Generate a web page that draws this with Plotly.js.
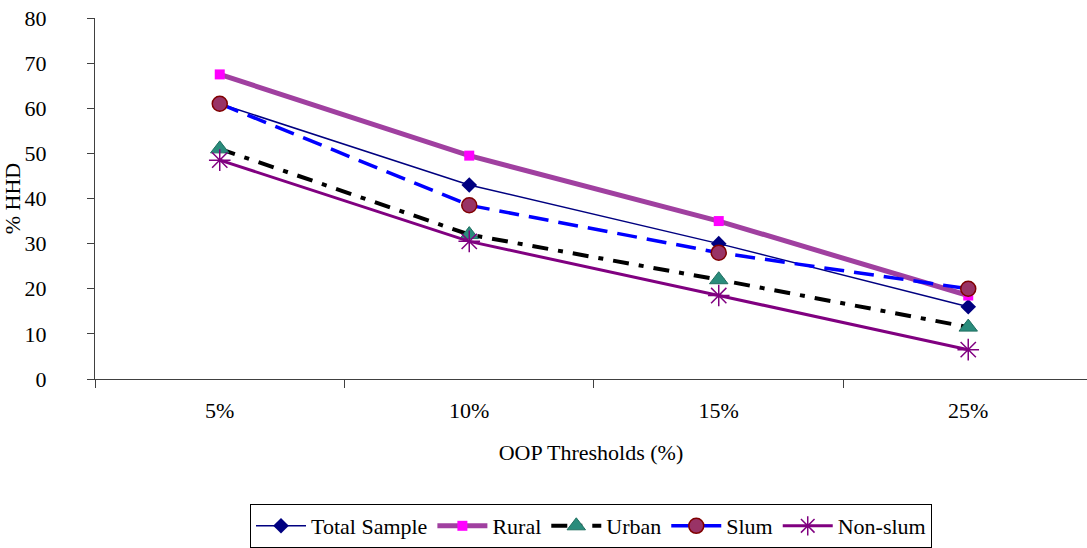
<!DOCTYPE html>
<html>
<head>
<meta charset="utf-8">
<script src="https://cdn.plot.ly/plotly-3.0.1.min.js"></script>
</head>
<body style="margin:0">
<div id="chart"></div>
<script>
const categories = ["5%", "10%", "15%", "25%"];
const totalSample = [61, 43, 30, 16];
const rural = [67.5, 49.5, 35, 18.5];
const urban = [51, 32, 22, 11.5];
const slum = [61, 38.5, 28, 20];
const nonSlum = [48.5, 30.5, 18.5, 6.5];

const serifFam = "Liberation Serif";

const traces = [
  {name: "Total Sample", x: categories, y: totalSample, type: "scatter", mode: "lines+markers",
   line: {color: "#000080", width: 1.5}, marker: {symbol: "diamond", size: 12, color: "#000080"}},
  {name: "Rural", x: categories, y: rural, type: "scatter", mode: "lines+markers",
   line: {color: "#A040A0", width: 5}, marker: {symbol: "square", size: 10, color: "#FF00FF"}},
  {name: "Urban", x: categories, y: urban, type: "scatter", mode: "lines+markers",
   line: {color: "#000000", width: 4, dash: "16px,10px,5px,10px"},
   marker: {symbol: "triangle-up", size: 16, color: "#2A8C7C", line: {color: "#1F6F60", width: 1}}},
  {name: "Slum", x: categories, y: slum, type: "scatter", mode: "lines+markers",
   line: {color: "#0000FF", width: 3.5, dash: "20px,10px"},
   marker: {symbol: "circle", size: 15, color: "#993366", line: {color: "#800000", width: 1.5}}},
  {name: "Non-slum", x: categories, y: nonSlum, type: "scatter", mode: "lines+markers",
   line: {color: "#800080", width: 3}, marker: {symbol: "asterisk-open", size: 18, color: "#800080", line: {color: "#800080", width: 1.5}}}
];

const layout = {
  width: 1087, height: 548,
  margin: {l: 95, r: 0, t: 18, b: 168},
  paper_bgcolor: "#fff", plot_bgcolor: "#fff",
  font: {family: serifFam, size: 22},
  showlegend: true,
  legend: {orientation: "h", x: 0.5, xanchor: "center", y: -0.345, yanchor: "top",
    bordercolor: "#000", borderwidth: 1, bgcolor: "#fff", font: {family: serifFam, size: 22},
    itemwidth: 50},
  xaxis: {type: "category", range: [-0.5, 3.476], showline: true, linecolor: "#404040", linewidth: 1,
    ticks: "outside", ticklen: 8, tickcolor: "#404040", tickson: "boundaries", showgrid: false, zeroline: false,
    tickfont: {family: serifFam, size: 22}, ticklabelstandoff: 12,
    title: {text: "OOP Thresholds (%)", font: {family: serifFam, size: 22}, standoff: 22}},
  yaxis: {range: [0, 80], dtick: 10, showline: true, linecolor: "#404040", linewidth: 1,
    ticks: "outside", ticklen: 7, tickcolor: "#404040", showgrid: false, zeroline: false,
    tickfont: {family: serifFam, size: 22}, ticklabelstandoff: 36,
    title: {text: "% HHD", font: {family: serifFam, size: 22}, standoff: 6}}
};

Plotly.newPlot("chart", traces, layout, {displayModeBar: false}).then(function (gd) {
  gd.querySelectorAll("text").forEach(function (t) {
    t.style.setProperty("font-family", '"Liberation Serif", serif', "important");
    t.style.setProperty("fill", "#000", "important");
  });
});
</script>
</body>
</html>
